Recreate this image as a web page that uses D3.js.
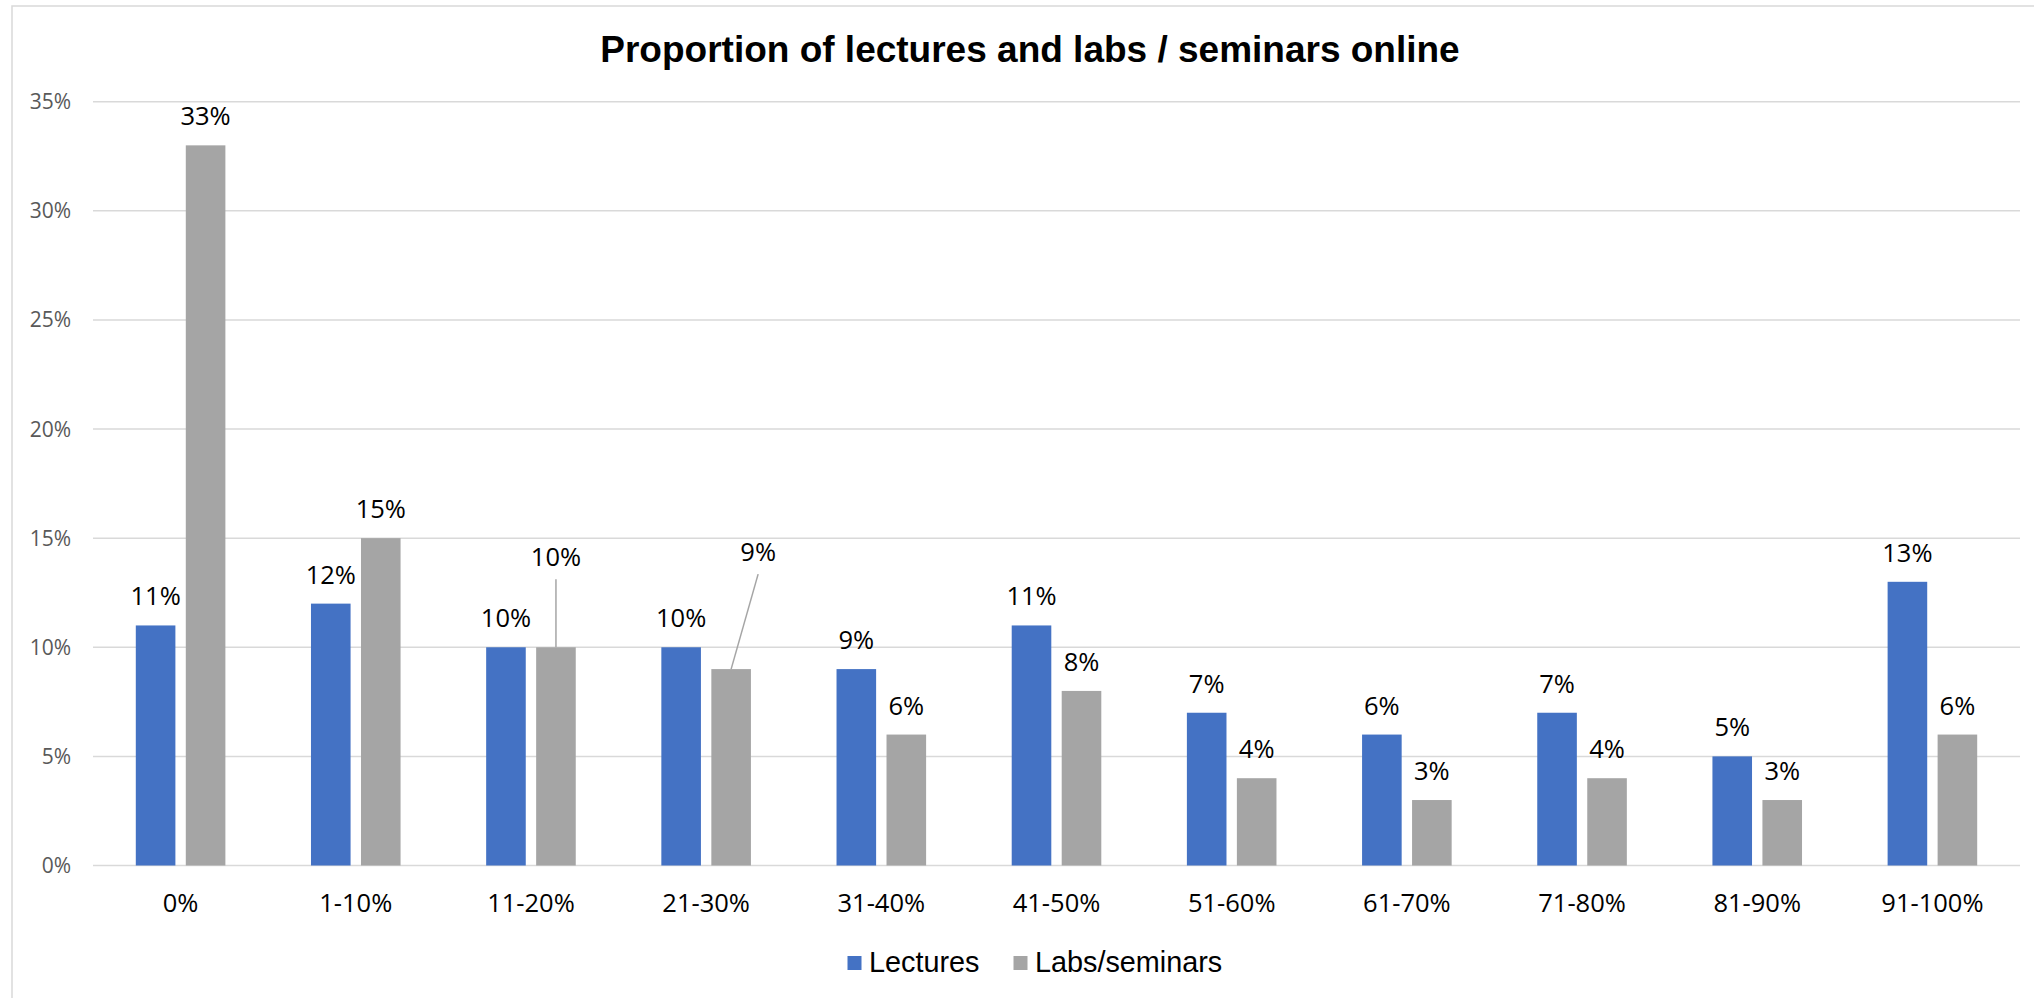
<!DOCTYPE html>
<html lang="en">
<head>
	<meta charset="utf-8">
	<title>Proportion of lectures and labs / seminars online</title>
	<script src="https://cdn.jsdelivr.net/npm/d3@7"></script>
	<style>
		body { margin: 0; background: #fff; }
		svg { display: block; }
	</style>
</head>
<body>
	<div class="chart"></div>
	<script>
		// data
		var categories = ["0%", "1-10%", "11-20%", "21-30%", "31-40%", "41-50%", "51-60%", "61-70%", "71-80%", "81-90%", "91-100%"];
		var seriesNames = ["Lectures", "Labs/seminars"];
		var lectures = [11, 12, 10, 10, 9, 11, 7, 6, 7, 5, 13];
		var labs = [33, 15, 10, 9, 6, 8, 4, 3, 4, 3, 6];
		var yTicks = [0, 5, 10, 15, 20, 25, 30, 35];

		var colors = { "Lectures": "#4472C4", "Labs/seminars": "#A5A5A5" };

		// labels that were dragged away from their bar (with a leader line)
		var movedLabels = {
			"Labs/seminars|11-20%": { dx: 0, dy: -61 },
			"Labs/seminars|21-30%": { dx: 27, dy: -88 }
		};

		var width = 2034, height = 998;
		var svg = d3.select(".chart").append("svg")
			.attr("width", width)
			.attr("height", height);

		// chart area border
		svg.append("rect")
			.attr("x", 12).attr("y", 6)
			.attr("width", width).attr("height", height)
			.attr("fill", "none")
			.attr("stroke", "#d9d9d9")
			.attr("stroke-width", 1.5);

		var x0 = d3.scaleBand()
			.domain(categories)
			.range([93, 2020])
			.paddingInner(0.4886)
			.paddingOuter(0.2443);

		var x1 = d3.scaleBand()
			.domain(seriesNames)
			.range([0, x0.bandwidth()])
			.paddingInner(0.208);

		var y = d3.scaleLinear()
			.domain([0, 35])
			.range([865.5, 101.7]);

		// gridlines
		svg.append("g")
			.selectAll("line")
			.data(yTicks)
			.enter().append("line")
			.attr("x1", 93).attr("x2", 2020)
			.attr("y1", function(d) { return y(d); })
			.attr("y2", function(d) { return y(d); })
			.attr("stroke", "#d9d9d9")
			.attr("stroke-width", 1.5);

		// y tick labels
		svg.append("g")
			.selectAll("text")
			.data(yTicks)
			.enter().append("text")
			.attr("x", 71)
			.attr("y", function(d) { return y(d); })
			.attr("dy", "0.36em")
			.attr("text-anchor", "end")
			.attr("font-family", "'Open Sans', sans-serif")
			.attr("font-size", 21)
			.attr("fill", "#595959")
			.text(function(d) { return d + "%"; });

		// x labels
		svg.append("g")
			.selectAll("text")
			.data(categories)
			.enter().append("text")
			.attr("x", function(d) { return x0(d) + x0.bandwidth() / 2; })
			.attr("y", 911.5)
			.attr("text-anchor", "middle")
			.attr("font-family", "'Open Sans', sans-serif")
			.attr("font-size", 25.5)
			.attr("fill", "#000")
			.text(function(d) { return d; });

		var rows = [];
		categories.forEach(function(c, i) {
			rows.push({ cat: c, series: "Lectures", value: lectures[i] });
			rows.push({ cat: c, series: "Labs/seminars", value: labs[i] });
		});

		// bars
		svg.append("g")
			.selectAll("rect")
			.data(rows)
			.enter().append("rect")
			.attr("x", function(d) { return x0(d.cat) + x1(d.series); })
			.attr("y", function(d) { return y(d.value); })
			.attr("width", x1.bandwidth())
			.attr("height", function(d) { return y(0) - y(d.value); })
			.attr("fill", function(d) { return colors[d.series]; });

		// leader lines for moved labels
		var labelG = svg.append("g");
		rows.forEach(function(d) {
			var cx = x0(d.cat) + x1(d.series) + x1.bandwidth() / 2;
			var ly = y(d.value) - 20;
			var m = movedLabels[d.series + "|" + d.cat];
			if (m) {
				labelG.append("line")
					.attr("x1", cx + m.dx)
					.attr("y1", ly + m.dy + 13)
					.attr("x2", cx)
					.attr("y2", y(d.value))
					.attr("stroke", "#a5a5a5")
					.attr("stroke-width", 1.5);
				cx += m.dx;
				ly += m.dy;
			}
			labelG.append("text")
				.attr("x", cx)
				.attr("y", ly)
				.attr("text-anchor", "middle")
				.attr("font-family", "'Open Sans', sans-serif")
				.attr("font-size", 25.5)
				.attr("fill", "#000")
				.text(d.value + "%");
		});

		// title
		svg.append("text")
			.attr("x", 1030)
			.attr("y", 61.5)
			.attr("text-anchor", "middle")
			.attr("font-family", "'Liberation Sans', Arial, sans-serif")
			.attr("font-weight", "bold")
			.attr("font-size", 37)
			.attr("fill", "#000")
			.text("Proportion of lectures and labs / seminars online");

		// legend
		var legendX = { "Lectures": 847.5, "Labs/seminars": 1013.5 };
		var legend = svg.append("g")
			.selectAll("g")
			.data(seriesNames)
			.enter().append("g")
			.attr("transform", function(d) { return "translate(" + legendX[d] + ",956)"; });
		legend.append("rect")
			.attr("width", 14).attr("height", 14)
			.attr("fill", function(d) { return colors[d]; });
		legend.append("text")
			.attr("x", 21.5)
			.attr("y", 15.7)
			.attr("font-family", "'Liberation Sans', Arial, sans-serif")
			.attr("font-size", 28.8)
			.attr("fill", "#000")
			.text(function(d) { return d; });
	</script>
</body>
</html>
